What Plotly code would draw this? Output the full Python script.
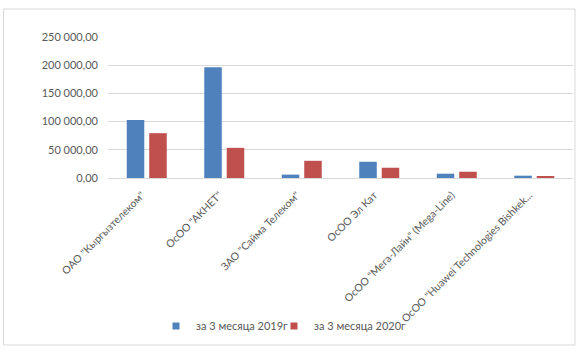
import plotly.graph_objects as go

categories = [
    'ОАО "Кыргызтелеком"',
    'ОсОО "АКНЕТ"',
    'ЗАО "Сайма Телеком"',
    'ОсОО Эл Кат',
    'ОсОО "Мега-Лайн" (Mega-Line)',
    'ОсОО "Huawei Technologies Bishkek...',
]
series_2019 = [103000, 196500, 6000, 28800, 7600, 4100]
series_2020 = [79500, 53500, 30500, 18200, 11100, 2300]
name_2019 = "за 3 месяца 2019г"
name_2020 = "за 3 месяца 2020г"
y_ticks = [0, 50000, 100000, 150000, 200000, 250000]

FONT = "Lato"
TXT = "#595959"
BLUE = "#4F81BD"
RED = "#C0504D"

fig = go.Figure()
fig.add_trace(go.Bar(x=categories, y=series_2019, name=name_2019, showlegend=False,
                     legendgroup="a", marker=dict(color=BLUE, line=dict(width=0))))
fig.add_trace(go.Bar(x=categories, y=series_2020, name=name_2020, showlegend=False,
                     legendgroup="b", marker=dict(color=RED, line=dict(width=0))))
# legend entries with small square swatches
fig.add_trace(go.Scatter(x=[None], y=[None], mode="markers", name=name_2019, legendgroup="a",
                         legend="legend", marker=dict(symbol="square", size=7, color=BLUE)))
fig.add_trace(go.Scatter(x=[None], y=[None], mode="markers", name=name_2020, legendgroup="b",
                         legend="legend2", marker=dict(symbol="square", size=7, color=RED)))

L, R, T, B = 108, 8, 37, 179
W, H = 581, 357
pw = W - L - R
ph = H - T - B

def px_x(p):
    return (p - L) / pw

def px_y(p):
    return (H - B - p) / ph

leg_common = dict(orientation="h", xanchor="left", yanchor="middle", y=px_y(326),
                  font=dict(family=FONT, size=11, color=TXT), itemwidth=30,
                  bgcolor="rgba(0,0,0,0)")

fig.update_layout(
    width=W, height=H,
    margin=dict(l=L, r=R, t=T, b=B, pad=0, autoexpand=False),
    paper_bgcolor="white", plot_bgcolor="white",
    separators=", ",
    font=dict(family=FONT, size=11, color=TXT),
    barmode="group", bargap=0.42, bargroupgap=0.22,
    showlegend=True,
    legend=dict(x=px_x(156), **leg_common),
    legend2=dict(x=px_x(274), **leg_common),
    xaxis=dict(showgrid=False, showline=True, linecolor="#D9D9D9", linewidth=1,
               ticks="", tickangle=-45, automargin=False,
               ticklabelstandoff=6, ticklabelshift=-5,
               tickfont=dict(family=FONT, size=10.5, color=TXT)),
    yaxis=dict(range=[0, 250000], tickvals=y_ticks, tickformat=",.2f",
               showgrid=True, gridcolor="#D9D9D9", gridwidth=1, zeroline=False,
               showline=False, ticks="", ticklabelstandoff=9, automargin=False,
               tickfont=dict(family=FONT, size=11, color=TXT)),
    shapes=[dict(type="rect", xref="paper", yref="paper",
                 x0=px_x(3.5), x1=px_x(575), y0=px_y(345), y1=px_y(9),
                 line=dict(color="#D9D9D9", width=1), fillcolor="rgba(0,0,0,0)",
                 layer="below")],
)

fig.write_html("out.html", config={"displayModeBar": False},
               post_script="document.body.style.margin='0';document.body.style.overflow='hidden';")
